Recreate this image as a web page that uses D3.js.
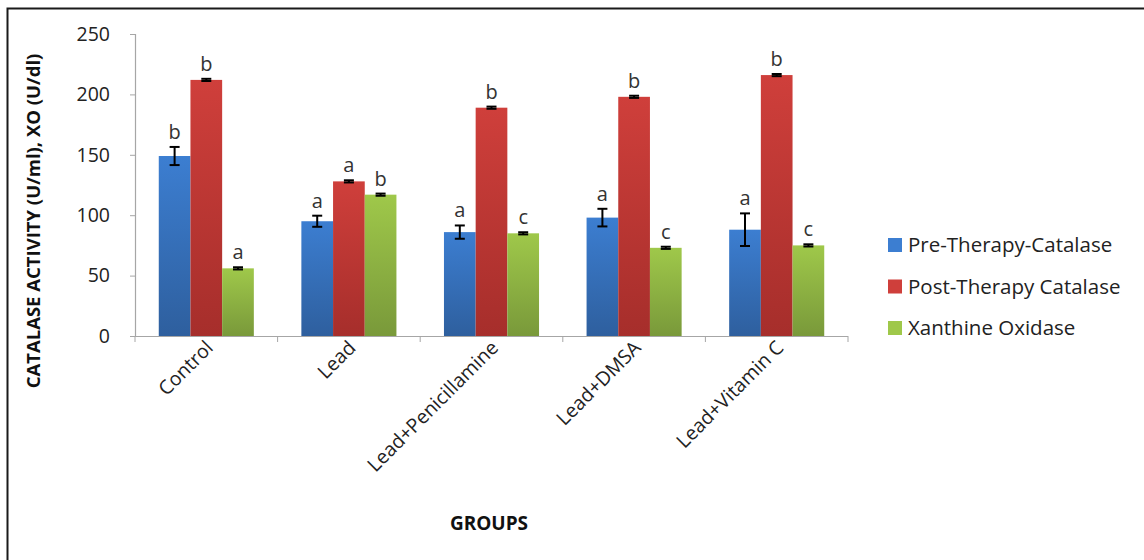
<!DOCTYPE html>
<html>
<head>
<meta charset="utf-8">
<script src="https://cdn.jsdelivr.net/npm/d3@7"></script>
<style>
  html, body { margin: 0; padding: 0; background: #fff; }
  svg { display: block; font-family: "Open Sans", "Noto Sans", sans-serif; }
</style>
</head>
<body>
<svg id="chart" width="1144" height="560"></svg>
<script>
// Groups on the x axis
const groups = ["Control", "Lead", "Lead+Penicillamine", "Lead+DMSA", "Lead+Vitamin C"];
// Series names (legend order)
const seriesNames = ["Pre-Therapy-Catalase", "Post-Therapy Catalase", "Xanthine Oxidase"];
// Means per group
const preCatalase  = [149, 95, 86, 98, 88];
const postCatalase = [212, 128, 189, 198, 216];
const xanthineOx   = [56, 117, 85, 73, 75];
// Error (± SEM) per group
const preErr  = [7.5, 4.6, 5.5, 7.3, 13.5];
const postErr = [0.9, 0.9, 0.9, 0.9, 0.9];
const xoErr   = [0.9, 0.9, 0.9, 0.9, 0.9];
// Significance letters per group
const preLetters  = ["b", "a", "a", "a", "a"];
const postLetters = ["b", "a", "b", "b", "b"];
const xoLetters   = ["a", "b", "c", "c", "c"];
// Y axis ticks
const yTicks = [0, 50, 100, 150, 200, 250];

const seriesValues = [preCatalase, postCatalase, xanthineOx];
const seriesErrors = [preErr, postErr, xoErr];
const seriesLetters = [preLetters, postLetters, xoLetters];

const svg = d3.select("#chart");

// Outer frame of the chart area
svg.append("rect")
  .attr("x", 7.5).attr("y", 8.5).attr("width", 1160).attr("height", 600)
  .attr("fill", "none").attr("stroke", "#1a1a1a").attr("stroke-width", 2);

const plot = { left: 135, right: 848, top: 34, bottom: 336 };

const y = d3.scaleLinear().domain([0, 250]).range([plot.bottom, plot.top]);
const x0 = d3.scaleBand().domain(groups).range([plot.left, plot.right]).padding(0);
const bw = x0.bandwidth();
// 150% gap width: three bars occupy 3/4.5 of each category
const x1 = d3.scaleBand().domain(d3.range(3))
  .range([bw * 0.75 / 4.5, bw * 3.75 / 4.5]).padding(0);

// Gradients for the bar fills
const defs = svg.append("defs");
const palettes = [
  ["#3c7ed1", "#2e5f9e"],
  ["#cf3f3b", "#a62e2b"],
  ["#9fc84a", "#79993a"]
];
palettes.forEach((p, i) => {
  const g = defs.append("linearGradient").attr("id", "grad" + i)
    .attr("x1", 0).attr("y1", 0).attr("x2", 0).attr("y2", 1);
  g.append("stop").attr("offset", "0%").attr("stop-color", p[0]);
  g.append("stop").attr("offset", "100%").attr("stop-color", p[1]);
});

// Axes
const yAxis = d3.axisLeft(y).tickValues(yTicks).tickSize(5).tickPadding(20);
const yG = svg.append("g").attr("transform", `translate(${plot.left},0)`).call(yAxis);
yG.select(".domain").attr("stroke", "#a6a6a6").attr("stroke-width", 1.2);
yG.selectAll(".tick line").attr("stroke", "#a6a6a6");
yG.selectAll(".tick text").attr("font-size", 19.5).attr("fill", "#222")
  .attr("font-family", "'Open Sans', sans-serif");

// X axis baseline and category boundary ticks
const xG = svg.append("g");
xG.append("line").attr("x1", plot.left).attr("x2", plot.right)
  .attr("y1", plot.bottom + 0.5).attr("y2", plot.bottom + 0.5)
  .attr("stroke", "#a6a6a6").attr("stroke-width", 1.2);
const bounds = groups.map(g => x0(g)).concat([plot.right]);
xG.selectAll("line.bt").data(bounds).enter().append("line")
  .attr("class", "bt")
  .attr("x1", d => d).attr("x2", d => d)
  .attr("y1", plot.bottom).attr("y2", plot.bottom + 6)
  .attr("stroke", "#a6a6a6");

// Category labels rotated 45°
xG.selectAll("text.cat").data(groups).enter().append("text")
  .attr("class", "cat")
  .attr("transform", d => `translate(${x0(d) + bw / 2 + 8},${plot.bottom + 13}) rotate(-45)`)
  .attr("text-anchor", "end")
  .attr("font-size", 19.5).attr("fill", "#222")
  .text(d => d);

// Bars
const barG = svg.append("g");
seriesValues.forEach((vals, si) => {
  const gs = barG.append("g");
  gs.selectAll("rect").data(vals).enter().append("rect")
    .attr("x", (d, i) => x0(groups[i]) + x1(si))
    .attr("width", x1.bandwidth())
    .attr("y", d => y(d))
    .attr("height", d => y(0) - y(d))
    .attr("fill", `url(#grad${si})`);
});

// Error bars and letters
const capW = 10;
seriesValues.forEach((vals, si) => {
  const errs = seriesErrors[si];
  const letters = seriesLetters[si];
  vals.forEach((v, i) => {
    const cx = x0(groups[i]) + x1(si) + x1.bandwidth() / 2;
    const yt = y(v + errs[i]), yb = y(v - errs[i]);
    const eg = barG.append("g").attr("stroke", "#000").attr("stroke-width", 2);
    eg.append("line").attr("x1", cx).attr("x2", cx).attr("y1", yt).attr("y2", yb);
    eg.append("line").attr("x1", cx - capW / 2).attr("x2", cx + capW / 2).attr("y1", yt).attr("y2", yt);
    eg.append("line").attr("x1", cx - capW / 2).attr("x2", cx + capW / 2).attr("y1", yb).attr("y2", yb);
    barG.append("text")
      .attr("x", cx).attr("y", yt - 8)
      .attr("text-anchor", "middle")
      .attr("font-size", 20).attr("fill", "#333")
      .text(letters[i]);
  });
});

// Axis titles
svg.append("text")
  .attr("transform", `translate(40,${221}) rotate(-90)`)
  .attr("text-anchor", "middle")
  .attr("font-size", 18.5).attr("font-weight", "bold").attr("fill", "#111")
  .text("CATALASE ACTIVITY (U/ml), XO (U/dl)");

svg.append("text")
  .attr("x", 489).attr("y", 530)
  .attr("text-anchor", "middle")
  .attr("font-size", 19).attr("font-weight", "bold").attr("fill", "#111")
  .text("GROUPS");

// Legend
const legend = svg.append("g").attr("transform", "translate(888,245)");
seriesNames.forEach((name, i) => {
  const row = legend.append("g").attr("transform", `translate(0,${i * 41.5})`);
  row.append("rect").attr("x", 0).attr("y", -7).attr("width", 14).attr("height", 14)
    .attr("fill", palettes[i][0]);
  row.append("text").attr("x", 20).attr("y", 0).attr("dy", "0.36em")
    .attr("font-size", 20.5).attr("fill", "#222")
    .text(name);
});
</script>
</body>
</html>
